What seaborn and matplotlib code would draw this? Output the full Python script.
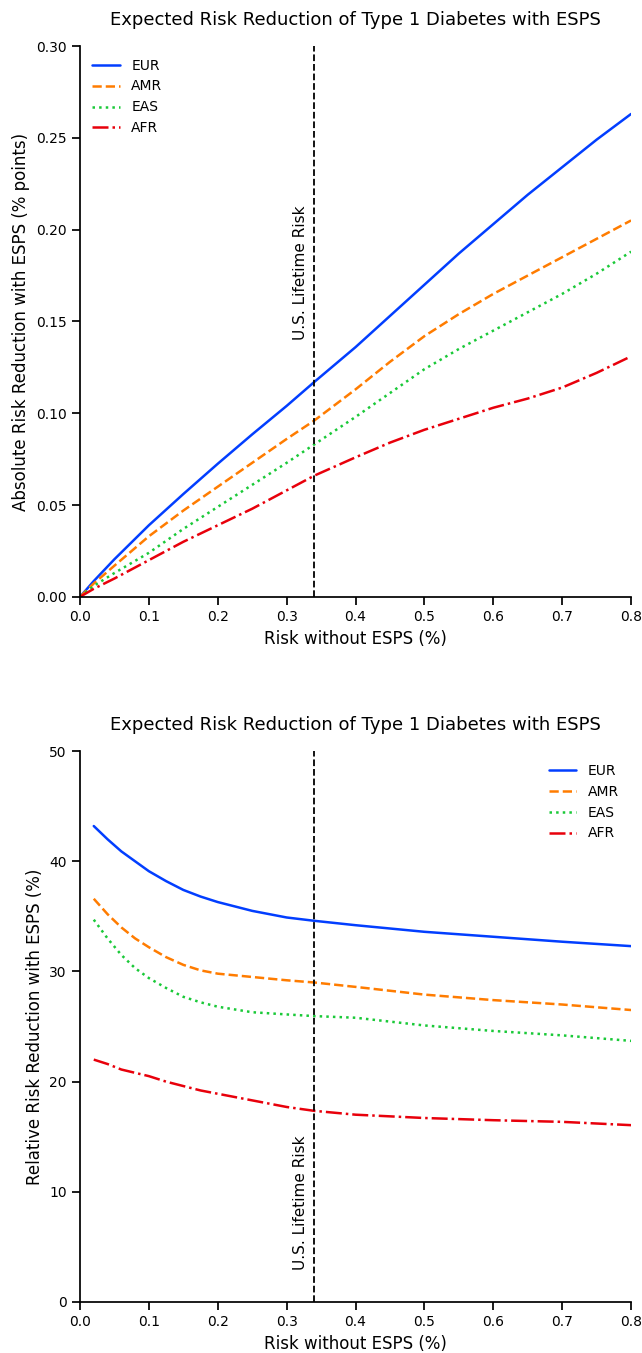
import numpy as np
import pandas as pd
import matplotlib
matplotlib.use('Agg')
import matplotlib.pyplot as plt
import seaborn as sns

# risk without ESPS (%)
risk_abs = [0.0, 0.02, 0.05, 0.1, 0.15, 0.2, 0.25, 0.3, 0.34, 0.4, 0.45, 0.5, 0.55, 0.6, 0.65, 0.7, 0.75, 0.8]
risk_rel = [0.02, 0.04, 0.06, 0.08, 0.1, 0.125, 0.15, 0.175, 0.2, 0.25, 0.3, 0.34, 0.4, 0.5, 0.6, 0.7, 0.8]

# absolute risk reduction (% points)
abs_eur = [0, 0.0086, 0.0205, 0.039, 0.056, 0.0725, 0.0885, 0.104, 0.117, 0.136, 0.153, 0.170, 0.187, 0.203, 0.219, 0.234, 0.249, 0.263]
abs_amr = [0, 0.0073, 0.017, 0.033, 0.047, 0.060, 0.073, 0.086, 0.096, 0.113, 0.128, 0.142, 0.154, 0.165, 0.175, 0.185, 0.195, 0.205]
abs_eas = [0, 0.0060, 0.013, 0.024, 0.037, 0.049, 0.061, 0.073, 0.083, 0.098, 0.111, 0.124, 0.135, 0.145, 0.155, 0.165, 0.176, 0.188]
abs_afr = [0, 0.0044, 0.010, 0.020, 0.030, 0.039, 0.048, 0.058, 0.066, 0.076, 0.084, 0.091, 0.097, 0.103, 0.108, 0.114, 0.122, 0.131]

# relative risk reduction (%)
rel_eur = [43.2, 42.0, 40.9, 40.0, 39.1, 38.2, 37.4, 36.8, 36.3, 35.5, 34.9, 34.6, 34.2, 33.6, 33.15, 32.7, 32.3]
rel_amr = [36.6, 35.2, 34.0, 33.0, 32.2, 31.3, 30.6, 30.1, 29.8, 29.5, 29.2, 29.0, 28.6, 27.9, 27.4, 27.0, 26.5]
rel_eas = [34.7, 33.0, 31.5, 30.3, 29.4, 28.5, 27.7, 27.2, 26.8, 26.3, 26.1, 25.95, 25.8, 25.1, 24.6, 24.2, 23.7]
rel_afr = [22.0, 21.6, 21.1, 20.8, 20.5, 20.0, 19.6, 19.2, 18.9, 18.3, 17.7, 17.35, 17.0, 16.7, 16.5, 16.35, 16.05]

pops = ['EUR', 'AMR', 'EAS', 'AFR']
us_lifetime_risk = 0.34

sns.set_theme(style='ticks', rc={'text.color': 'black', 'axes.labelcolor': 'black',
                                 'xtick.color': 'black', 'ytick.color': 'black',
                                 'axes.edgecolor': 'black'})
plt.rcParams['font.family'] = ['DejaVu Sans']
colors = sns.color_palette('bright')
pop_colors = [colors[0], colors[1], colors[2], colors[3]]
pop_styles = ['-', '--', ':', '-.']

fig, (ax1, ax2) = plt.subplots(2, 1, figsize=(6.42, 13.53), dpi=100)
fig.subplots_adjust(left=0.1246, right=0.983, top=0.966, bottom=0.0377, hspace=0.28)

abs_series = [abs_eur, abs_amr, abs_eas, abs_afr]
rel_series = [rel_eur, rel_amr, rel_eas, rel_afr]

for pop, vals, c, ls in zip(pops, abs_series, pop_colors, pop_styles):
    sns.lineplot(x=risk_abs, y=vals, ax=ax1, color=c, linestyle=ls, linewidth=1.8, label=pop)
for pop, vals, c, ls in zip(pops, rel_series, pop_colors, pop_styles):
    sns.lineplot(x=risk_rel, y=vals, ax=ax2, color=c, linestyle=ls, linewidth=1.8, label=pop)

for ax in (ax1, ax2):
    ax.axvline(us_lifetime_risk, color='black', linestyle='--', linewidth=1.3)
    ax.set_xlim(0, 0.8)
    ax.set_xticks(np.arange(0, 0.81, 0.1))
    ax.set_xticklabels([f'{t:.1f}' for t in np.arange(0, 0.81, 0.1)])
    ax.set_xlabel('Risk without ESPS (%)', fontsize=12)
    ax.set_title('Expected Risk Reduction of Type 1 Diabetes with ESPS', fontsize=13, pad=15)
    ax.tick_params(labelsize=10)

ax1.set_ylim(0, 0.30)
ax1.set_yticks(np.arange(0, 0.301, 0.05))
ax1.set_yticklabels([f'{t:.2f}' for t in np.arange(0, 0.301, 0.05)])
ax1.set_ylabel('Absolute Risk Reduction with ESPS (% points)', fontsize=12)
ax1.text(0.331, 0.140, 'U.S. Lifetime Risk', rotation=90, ha='right', va='bottom', fontsize=11)
ax1.legend(loc='upper left', frameon=False, fontsize=10)

ax2.set_ylim(0, 50)
ax2.set_yticks(range(0, 51, 10))
ax2.set_ylabel('Relative Risk Reduction with ESPS (%)', fontsize=12)
ax2.text(0.331, 2.9, 'U.S. Lifetime Risk', rotation=90, ha='right', va='bottom', fontsize=11)
ax2.legend(loc='upper right', frameon=False, fontsize=10)

sns.despine()
fig.savefig('out.png', dpi=100)
